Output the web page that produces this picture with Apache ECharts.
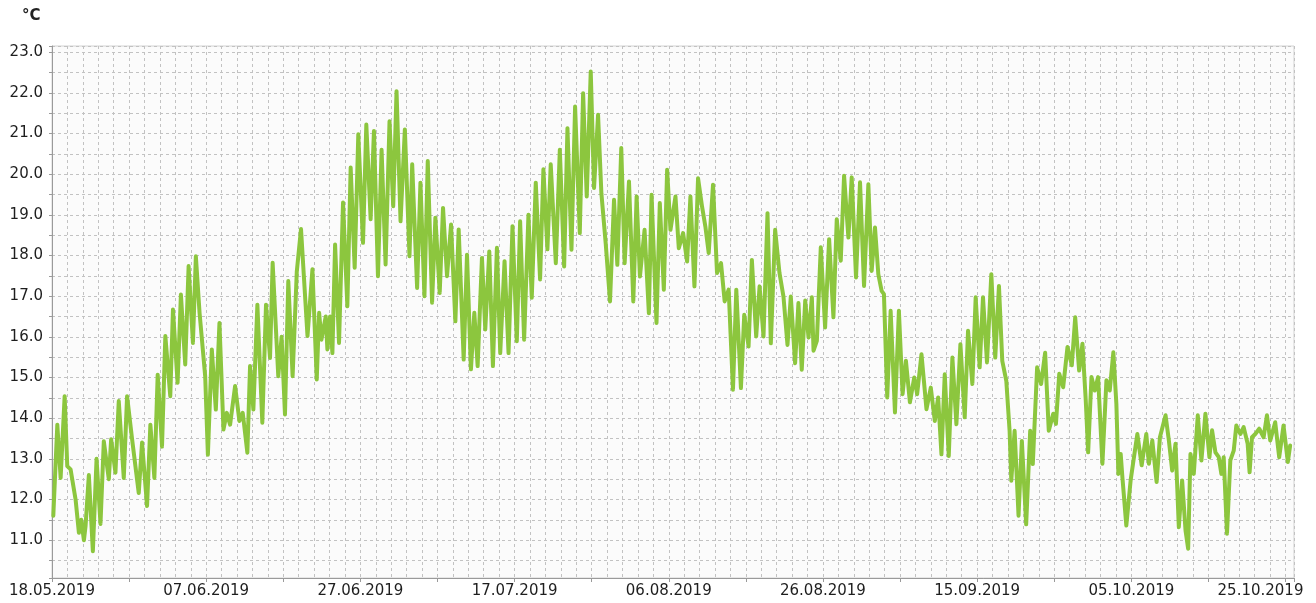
<!DOCTYPE html>
<html>
<head>
<meta charset="utf-8">
<script src="https://cdn.jsdelivr.net/npm/echarts@6/dist/echarts.min.js"></script>
<style>
html,body{margin:0;padding:0;background:#fff;}
#chart{width:1316px;height:603px;}
</style>
</head>
<body>
<div id="chart"></div>
<script>
// Start date of the series (day 0)
const startDate = Date.UTC(2019, 4, 18);
const unitLabel = '°C';

// Time of each reading, in days after 18.05.2019
const days = [
0.17,0.69,1.12,1.64,1.98,2.41,3.06,3.49,3.79,4.14,4.35,4.78,5.30,5.78,6.29,6.72,7.37,7.67,8.23,8.66,
9.31,9.74,10.39,11.25,11.68,12.33,12.76,13.28,13.71,14.27,14.70,15.34,15.69,16.29,16.72,17.28,17.72,18.28,18.66,19.14,
19.87,20.22,20.73,21.25,21.72,22.24,22.67,23.10,23.75,24.31,24.74,25.34,25.69,26.12,26.64,27.28,27.76,28.28,28.62,29.35,
29.78,30.22,30.65,31.21,31.75,32.30,
33.14,33.78,34.34,34.65,34.95,35.51,35.72,36.07,36.37,36.72,37.23,37.75,38.31,38.74,39.26,39.73,40.34,40.77,41.33,41.76,
42.28,42.75,43.27,43.78,44.26,44.69,45.21,45.77,46.37,46.72,47.36,47.79,48.31,48.74,49.30,49.73,50.29,50.72,51.24,51.76,
52.32,52.75,53.40,53.83,54.34,54.78,55.21,55.77,56.20,56.72,57.19,57.71,58.14,58.70,59.22,59.73,60.29,60.72,61.24,61.80,
62.23,62.75,63.31,63.74,64.26,64.69,
65.35,65.87,66.43,66.86,67.38,67.85,68.46,68.89,69.36,69.88,70.31,70.83,71.26,71.82,72.38,72.90,73.33,73.84,74.28,74.84,
75.40,75.83,76.26,76.86,77.42,77.77,78.41,78.84,79.36,79.79,80.22,80.87,81.30,81.86,82.38,82.81,83.33,83.80,84.32,84.75,
85.18,85.74,86.26,86.78,87.25,87.77,88.33,88.76,89.36,89.79,90.35,90.78,91.34,91.78,92.29,92.81,93.24,93.80,94.36,94.88,
95.40,95.83,96.39,96.82,97.25,
97.70,98.13,98.56,98.78,99.21,99.72,100.28,100.80,101.36,101.79,102.31,102.74,103.30,103.73,104.29,104.81,105.33,105.89,106.32,106.75,
107.18,107.61,107.91,108.34,108.78,109.34,109.85,110.33,110.76,111.28,111.84,112.22,112.78,113.43,113.99,114.51,114.94,115.37,115.80,116.32,
116.79,117.31,117.83,118.39,118.82,119.38,119.81,120.33,120.76,121.28,121.84,122.35,122.83,123.26,123.78,124.21,124.43,124.86,125.37,125.80,
126.36,126.88,127.22,127.78,128.30,128.82,129.29,
129.87,130.22,130.65,131.16,131.72,132.28,132.72,133.23,133.66,134.09,134.40,134.83,135.26,135.69,136.25,136.77,137.20,137.67,138.06,138.32,
138.62,138.84,139.35,139.91,140.34,140.78,141.34,141.94,142.28,142.72,143.28,143.71,144.44,144.87,145.30,145.73,146.16,146.59,147.03,147.37,
147.67,148.10,148.62,149.09,149.61,150.13,150.47,150.91,151.34,151.68,151.98,152.41,152.84,153.28,153.62,154.14,154.57,155.09,155.34,155.65,
156.08,156.59,157.16,157.59,158.02,158.66,159.18,159.74,160.30,160.60
];

// Temperature readings, °C
const temps = [
11.60,13.84,12.53,14.54,12.82,12.74,12.00,11.18,11.50,11.00,11.34,12.60,10.73,13.00,11.40,13.43,12.50,13.48,12.66,14.42,
12.53,14.54,13.48,12.16,13.40,11.84,13.84,12.53,15.07,13.30,16.02,14.54,16.67,14.87,17.04,15.32,17.74,15.85,17.98,16.59,
15.03,13.10,15.69,14.21,16.34,13.72,14.13,13.84,14.79,13.93,14.13,13.15,15.28,14.21,16.79,13.89,16.79,15.48,17.82,15.03,
16.00,14.09,17.37,15.03,17.60,18.65,
16.02,17.66,14.95,16.59,15.93,16.50,15.69,16.50,15.60,18.27,15.85,19.30,16.75,20.16,17.70,20.98,18.31,21.22,18.89,21.06,
17.49,20.60,17.78,21.30,19.21,22.04,18.84,21.10,17.98,20.24,17.20,19.79,17.00,20.32,16.84,18.93,17.08,19.17,17.49,18.76,
16.38,18.64,15.44,18.02,15.20,16.59,15.28,17.94,16.18,18.10,15.28,18.19,15.60,17.86,15.60,18.72,15.89,18.84,15.93,19.00,
16.96,19.79,17.41,20.12,18.15,20.24,
17.81,20.60,17.73,21.13,18.14,21.66,18.55,21.99,19.45,22.52,19.66,21.46,19.53,18.30,16.87,19.37,17.77,20.64,17.81,19.82,
16.87,19.45,17.48,18.63,16.58,19.49,16.34,19.29,17.16,20.11,18.63,19.45,18.18,18.55,17.85,19.45,17.24,19.90,19.20,18.71,
18.06,19.74,17.57,17.81,16.87,17.16,14.70,17.16,14.74,16.54,15.76,17.89,16.01,17.24,16.01,19.04,15.84,18.63,17.57,16.99,
15.80,16.99,15.35,16.83,15.19,
16.89,15.98,16.97,15.66,15.90,18.20,16.23,18.40,16.48,18.89,17.87,19.96,18.44,19.92,17.46,19.80,17.25,19.75,17.62,18.69,
17.54,17.13,17.05,14.51,16.64,14.14,16.64,14.59,15.41,14.39,15.00,14.59,15.57,14.22,14.75,13.93,14.51,13.11,15.08,13.07,
15.49,13.85,15.82,14.02,16.15,14.84,16.97,15.25,16.97,15.37,17.54,15.49,17.25,15.41,14.92,13.69,12.46,13.69,11.60,13.44,
11.39,13.69,12.87,15.25,14.84,15.61,13.69,
14.11,13.86,15.09,14.76,15.75,15.30,16.48,15.17,15.83,14.43,13.16,15.01,14.68,15.01,12.88,14.93,14.68,15.62,14.35,12.63,
13.12,12.55,11.36,12.47,13.04,13.61,12.84,13.61,12.88,13.45,12.43,13.53,14.07,13.45,12.71,13.37,11.32,12.47,11.24,10.79,
13.12,12.63,14.07,12.96,14.11,13.04,13.70,13.16,13.04,12.63,13.04,11.16,12.96,13.20,13.82,13.61,13.78,13.37,12.67,13.53,
13.61,13.74,13.53,14.07,13.45,13.90,13.04,13.82,12.92,13.33
];

const seriesData = days.map((d, i) => [d, temps[i]]);

function pad(n) { return (n < 10 ? '0' : '') + n; }
function dayLabel(d) {
  const dt = new Date(startDate + Math.round(d) * 86400000);
  return pad(dt.getUTCDate()) + '.' + pad(dt.getUTCMonth() + 1) + '.' + dt.getUTCFullYear();
}

const FONT = 'DejaVu Sans';
const gridColor = '#c2c2c2';

const chart = echarts.init(document.getElementById('chart'), null, {renderer: 'canvas'});
chart.setOption({
  animation: false,
  backgroundColor: '#ffffff',
  graphic: [{
    type: 'text', left: 22, top: 9,
    style: {text: unitLabel, font: 'bold 15px "' + FONT + '"', fill: '#222'}
  }],
  grid: {
    left: 52, right: 22, top: 46, bottom: 25,
    show: true, borderColor: '#d2d2d2', borderWidth: 1, backgroundColor: '#fbfbfb'
  },
  xAxis: {
    type: 'value',
    min: 0, max: 161.1,
    splitNumber: 16, minInterval: 10, maxInterval: 10,
    axisLine: {show: true, lineStyle: {color: '#9a9a9a', width: 1}},
    axisTick: {show: true, length: 4, lineStyle: {color: '#9a9a9a'}},
    axisLabel: {
      margin: 6, color: '#1e1e1e', fontFamily: FONT, fontSize: 15,
      showMinLabel: true, showMaxLabel: true,
      formatter: function (v) {
        const r = Math.round(v);
        if (Math.abs(v - r) > 1e-6 || r % 20 !== 0) return '';
        if (r === 160) return '{last|' + dayLabel(r) + '}';
        return dayLabel(r);
      },
      rich: {last: {padding: [0, 50, 0, 0], color: '#1e1e1e', fontFamily: FONT, fontSize: 15}}
    },
    splitLine: {show: true, lineStyle: {color: gridColor, type: [3, 3], width: 1}},
    minorTick: {show: false, splitNumber: 5},
    minorSplitLine: {show: true, lineStyle: {color: gridColor, type: [3, 3], width: 1}}
  },
  yAxis: {
    type: 'value',
    min: 10.07, max: 23.15,
    splitNumber: 26, minInterval: 0.5, maxInterval: 0.5,
    axisLine: {show: true, lineStyle: {color: '#9a9a9a', width: 1}},
    axisTick: {show: true, length: 3, lineStyle: {color: '#9a9a9a'}},
    axisLabel: {
      margin: 9, color: '#1e1e1e', fontFamily: FONT, fontSize: 15,
      formatter: function (v) {
        const r = Math.round(v);
        if (Math.abs(v - r) > 1e-6) return '';
        return r.toFixed(1);
      }
    },
    splitLine: {show: true, lineStyle: {color: gridColor, type: [3, 3], width: 1}}
  },
  series: [{
    type: 'line',
    data: seriesData,
    showSymbol: false,
    symbol: 'none',
    smooth: false,
    lineStyle: {color: '#8cc63e', width: 4, join: 'round', cap: 'round'},
    itemStyle: {color: '#8cc63e'}
  }]
});
</script>
</body>
</html>
